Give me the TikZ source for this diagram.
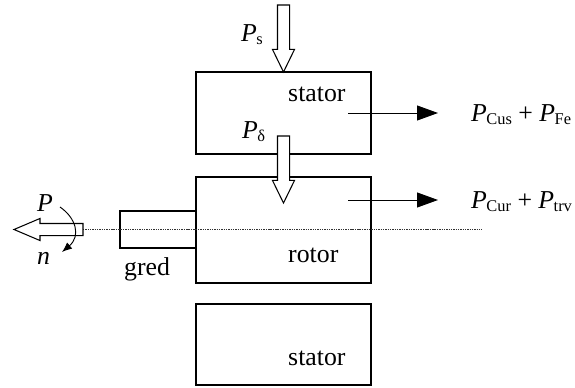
\documentclass[tikz,border=0pt]{standalone}
\usepackage{fontspec}
\setmainfont{Liberation Serif}
\usetikzlibrary{arrows.meta,shapes.arrows}
\definecolor{axisgray}{RGB}{50,50,50}
\newcommand{\powsym}[1]{\textit{P}\kern-0.02em\raisebox{-0.3ex}{\fontsize{14pt}{16pt}\selectfont #1}}

\begin{document}
\begin{tikzpicture}[
  x=0.03cm, y=-0.03cm,
  every node/.style={font=\fontsize{22pt}{24pt}\selectfont},
  %% Block styles
  partbox/.style={
    rectangle, draw=black, fill=white, line width=1.15pt,
    minimum width=5.25cm, inner sep=0pt, outer sep=0pt, anchor=north west,
  },
  %% Hollow power arrows
  powarrow/.style={
    single arrow, draw=black, fill=white, line width=0.9pt,
    inner xsep=0pt, inner ysep=0.165cm, outer sep=0pt,
    minimum width=0.63cm, minimum height=2.01cm,
    single arrow head extend=0.15cm, single arrow tip angle=52,
    single arrow head indent=0pt, anchor=tip,
  },
  %% Edge styles
  lossedge/.style={draw=black, line width=0.8pt, -{Triangle[length=0.63cm,width=0.45cm]}},
  turnedge/.style={draw=black, line width=0.8pt, -{Latex[length=0.3cm,width=0.24cm]}},
  axisedge/.style={draw=axisgray, line width=0.7pt, dash pattern=on 1.2pt off 0.8pt},
  %% Text style
  tlabel/.style={anchor=base west, inner sep=0pt},
]
\useasboundingbox (0,0) rectangle (575,388);

%% =============================================================
%%  Blocks
%% =============================================================
\node[partbox, minimum height=2.46cm] (statortop) at (196, 72)  {};
\node[partbox, minimum height=3.18cm] (rotor)     at (196, 177) {};
\node[partbox, minimum height=2.43cm] (statorbot) at (196, 304) {};
\node[partbox, minimum width=2.28cm, minimum height=1.11cm, anchor=north east] (gear) at (196, 211) {};

%% Shaft axis
\coordinate (axisstart) at (83, 229.5);
\coordinate (axisend)   at (482, 229.5);
\draw[axisedge] (axisstart) -- (axisend);

%% =============================================================
%%  Hollow arrows
%% =============================================================
\node[powarrow, rotate=-90] (inpow) at (283.5, 72) {};
\node[powarrow, rotate=-90] (airpow) at (283.5, 203) {};
\node[powarrow, rotate=180, minimum width=0.62cm, minimum height=2.07cm,
      single arrow tip angle=46] (outpow) at (14, 229.5) {};

%% =============================================================
%%  Loss arrows and rotation
%% =============================================================
\coordinate (lossA) at (348, 113);
\coordinate (lossB) at (438, 113);
\coordinate (lossC) at (348, 200);
\coordinate (lossD) at (438, 200);
\draw[lossedge] (lossA) -- (lossB);
\draw[lossedge] (lossC) -- (lossD);

\coordinate (turnA) at (60, 207);
\coordinate (turnB) at (62, 252);
\draw[turnedge] (turnA) .. controls (76, 218) and (81, 236) .. (turnB);

%% =============================================================
%%  Labels
%% =============================================================
\node[tlabel] (tstatortop) at (288, 101) {stator};
\node[tlabel] (trotor)     at (288, 262) {rotor};
\node[tlabel] (tstatorbot) at (288, 365) {stator};
\node[tlabel] (tgear)      at (124, 275) {gred};
\node[tlabel] (tp)  at (37, 211) {\textit{P}};
\node[tlabel] (tn)  at (37, 264) {\textit{n}};
\node[tlabel] (tps) at (241, 41)  {\powsym{s}};
\node[tlabel] (tpd) at (242, 138) {\powsym{δ}};
\node[tlabel] (tlossS) at (471, 121) {\powsym{Cus} + \powsym{Fe}};
\node[tlabel] (tlossR) at (471, 208) {\powsym{Cur} + \powsym{trv}};

\end{tikzpicture}
\end{document}
